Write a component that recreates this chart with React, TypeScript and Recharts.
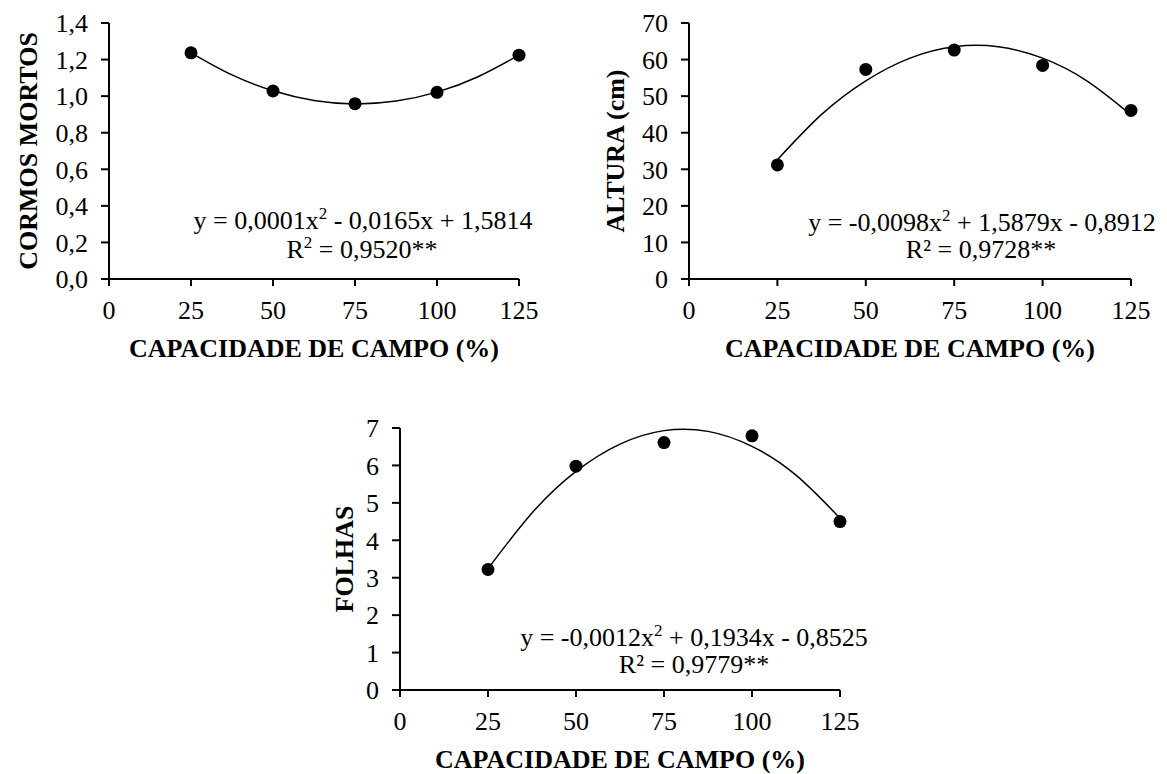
import React from 'react';
import { ComposedChart, Line, Scatter, XAxis, YAxis } from 'recharts';

// field capacity levels (%)
const levels = [25, 50, 75, 100, 125];
const xTicks = [0, 25, 50, 75, 100, 125];

// observed means
const cormosPoints = [1.237, 1.028, 0.959, 1.021, 1.224];
const alturaPoints = [31.2, 57.3, 62.6, 58.4, 46.1];
const folhasPoints = [3.22, 5.98, 6.61, 6.79, 4.5];

// trend curves read along x
const curveX = [25, 37.5, 50, 62.5, 75, 87.5, 100, 112.5, 125];
const cormosCurve = [1.237, 1.116, 1.029, 0.976, 0.957, 0.973, 1.022, 1.106, 1.224];
const alturaCurve = [32.6, 45.0, 54.2, 60.4, 63.5, 63.5, 60.4, 54.2, 44.9];
const folhasCurve = [3.24, 4.73, 5.84, 6.57, 6.93, 6.91, 6.51, 5.74, 4.59];

const cormosTicks = [0, 0.2, 0.4, 0.6, 0.8, 1.0, 1.2, 1.4];
const alturaTicks = [0, 10, 20, 30, 40, 50, 60, 70];
const folhasTicks = [0, 1, 2, 3, 4, 5, 6, 7];

const FONT = '"Liberation Serif", "Times New Roman", serif';
const FS = 26;

const toRows = (xs: number[], ys: number[]) => xs.map((x, i) => ({ x, y: ys[i] }));

const Dot = (p: any) => <circle cx={p.cx} cy={p.cy} r={6.5} fill="#000" />;

interface PanelProps {
  left: number;
  top: number;
  width: number;
  height: number;
  yAxisWidth: number;
  margin: { top: number; right: number; bottom: number; left: number };
  points: number[];
  curve: number[];
  yTicks: number[];
  yMax: number;
  decimals: number;
  yLabel: string;
  yLabelOffset: number;
  equation: React.ReactNode;
}

function Panel(props: PanelProps) {
  const { left, top, width, height, yAxisWidth, margin, points, curve, yTicks, yMax, decimals, yLabel, yLabelOffset, equation } = props;
  const tickStyle = { fontFamily: FONT, fontSize: FS, fill: '#000' };
  return (
    <div style={{ position: 'absolute', left, top, width, height }}>
      <ComposedChart width={width} height={height} margin={margin}>
        <XAxis
          type="number"
          dataKey="x"
          domain={[0, 125]}
          ticks={xTicks}
          interval={0}
          height={40}
          tickSize={7}
          tickMargin={15}
          tick={tickStyle}
          stroke="#000"
          strokeWidth={2}
          label={{
            value: 'CAPACIDADE DE CAMPO (%)',
            position: 'bottom',
            offset: 20,
            style: { fontFamily: FONT, fontSize: FS, fontWeight: 'bold', fill: '#000' },
          }}
        />
        <YAxis
          type="number"
          domain={[0, yMax]}
          ticks={yTicks}
          interval={0}
          width={yAxisWidth}
          tickSize={8}
          tickMargin={13}
          tick={tickStyle}
          tickFormatter={(v: number) => v.toFixed(decimals).replace('.', ',')}
          stroke="#000"
          strokeWidth={2}
          label={{
            value: yLabel,
            angle: -90,
            position: 'insideLeft',
            offset: yLabelOffset,
            style: { fontFamily: FONT, fontSize: FS, fontWeight: 'bold', fill: '#000', textAnchor: 'middle' },
          }}
        />
        <Line
          data={toRows(curveX, curve)}
          dataKey="y"
          type="natural"
          stroke="#000"
          strokeWidth={1.5}
          dot={false}
          activeDot={false}
          isAnimationActive={false}
        />
        <Scatter data={toRows(levels, points)} dataKey="y" fill="#000" shape={Dot} isAnimationActive={false} />
        {equation}
      </ComposedChart>
    </div>
  );
}

const eqStyle = { fontFamily: FONT, fontSize: FS, fill: '#000' } as const;

function Sup({ children }: { children: React.ReactNode }) {
  return (
    <>
      <tspan dy={-10} fontSize={17}>{children}</tspan>
      <tspan dy={10}> </tspan>
    </>
  );
}

export default function App() {
  return (
    <div style={{ position: 'absolute', left: 0, top: 0, width: 1167, height: 774, background: '#fff' }}>
      <Panel
        left={0}
        top={0}
        width={560}
        height={380}
        yAxisWidth={109}
        margin={{ top: 23, right: 41, bottom: 61, left: 0 }}
        points={cormosPoints}
        curve={cormosCurve}
        yTicks={cormosTicks}
        yMax={1.4}
        decimals={1}
        yLabel="CORMOS MORTOS"
        yLabelOffset={28}
        equation={
          <g>
            <text x={363} y={229} textAnchor="middle" style={eqStyle}>
              y = 0,0001x<tspan dy={-10} fontSize={17}>2</tspan><tspan dy={10}> - 0,0165x + 1,5814</tspan>
            </text>
            <text x={362} y={258} textAnchor="middle" style={eqStyle}>
              R<tspan dy={-10} fontSize={17}>2</tspan><tspan dy={10}> = 0,9520**</tspan>
            </text>
          </g>
        }
      />
      <Panel
        left={560}
        top={0}
        width={607}
        height={380}
        yAxisWidth={129}
        margin={{ top: 23, right: 36, bottom: 61, left: 0 }}
        points={alturaPoints}
        curve={alturaCurve}
        yTicks={alturaTicks}
        yMax={70}
        decimals={0}
        yLabel="ALTURA (cm)"
        yLabelOffset={55}
        equation={
          <g>
            <text x={422} y={231} textAnchor="middle" style={eqStyle}>
              y = -0,0098x<tspan dy={-10} fontSize={17}>2</tspan><tspan dy={10}> + 1,5879x - 0,8912</tspan>
            </text>
            <text x={421} y={258} textAnchor="middle" style={eqStyle}>
              R² = 0,9728**
            </text>
          </g>
        }
      />
      <Panel
        left={300}
        top={400}
        width={580}
        height={374}
        yAxisWidth={100}
        margin={{ top: 28, right: 40, bottom: 44, left: 0 }}
        points={folhasPoints}
        curve={folhasCurve}
        yTicks={folhasTicks}
        yMax={7}
        decimals={0}
        yLabel="FOLHAS"
        yLabelOffset={44}
        equation={
          <g>
            <text x={394} y={246} textAnchor="middle" style={eqStyle}>
              y = -0,0012x<tspan dy={-10} fontSize={17}>2</tspan><tspan dy={10}> + 0,1934x - 0,8525</tspan>
            </text>
            <text x={394} y={273} textAnchor="middle" style={eqStyle}>
              R² = 0,9779**
            </text>
          </g>
        }
      />
    </div>
  );
}
